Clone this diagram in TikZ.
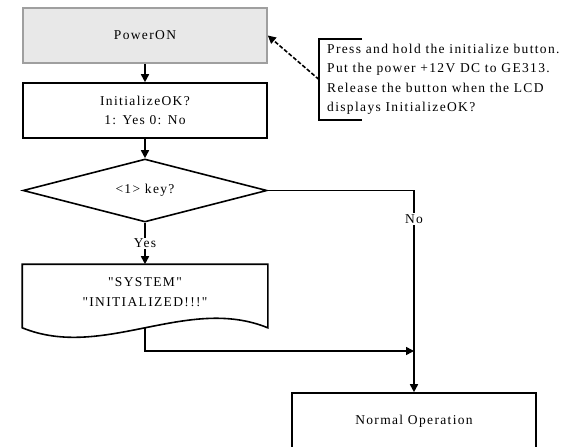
\documentclass[tikz,border=0pt]{standalone}
\usepackage{fontspec}
\setmainfont{Liberation Serif}[Ligatures=TeXOff,LetterSpace=10]
\usetikzlibrary{shapes.geometric,arrows.meta}
\begin{document}
\begin{tikzpicture}[x=1pt,y=-1pt,
    font=\fontsize{13.5pt}{19.5pt}\selectfont,
    box/.style={draw,line width=1.6pt,minimum width=244pt,minimum height=55pt,align=center,inner sep=0pt},
    link/.style={line width=1.6pt,-{Triangle[length=8pt,width=8pt]}},
    lbl/.style={fill=white,inner sep=1.5pt}]
  \useasboundingbox (0,0) rectangle (563,447);
  %% main column
  \node[box,fill=gray!18,draw=gray!75] (power) at (145,35.5) {PowerON};
  \node[box] (init) at (145,110.5) {InitializeOK?\\1: Yes 0: No};
  \node[box,diamond,aspect=4,minimum height=63pt] (key) at (145,190.5) {<1> key?};
  \node[box,draw=none,minimum height=54pt] (msg) at (145,292) {"SYSTEM"\\"INITIALIZED!!!"};
  \draw[line width=1.6pt] (msg.north west) -- (msg.north east) -- ([yshift=-8pt]msg.south east)
    .. controls +(-81,-33) and +(81,33) .. ([yshift=-8pt]msg.south west) -- cycle;
  \node[box,minimum height=56pt] (normal) at (414,421) {Normal Operation};
  \coordinate (join) at (414,351);
  %% connectors
  \draw[link] (power) -- (init);
  \draw[link] (init) -- (key);
  \draw[link] (key.south) -- node[lbl]{Yes} (msg.north);
  \draw[link] (key.east) -| node[lbl,pos=0.57]{No} (normal.north);
  \draw[link] ([yshift=-8pt]msg.south) |- (join);
  %% note
  \node[align=left,anchor=west,inner xsep=8pt,inner ysep=0pt,minimum height=81pt] (note) at (319,79.5)
    {Press and hold the initialize button.\\Put the power +12V DC to GE313.\\Release the button when the LCD\\displays InitializeOK?};
  \draw[line width=1.6pt] ([xshift=43pt]note.north west) -- (note.north west) -- (note.south west) -- ([xshift=43pt]note.south west);
  \draw[link,dash pattern=on 4pt off 2pt] (note.west) -- (power.east);
\end{tikzpicture}
\end{document}
